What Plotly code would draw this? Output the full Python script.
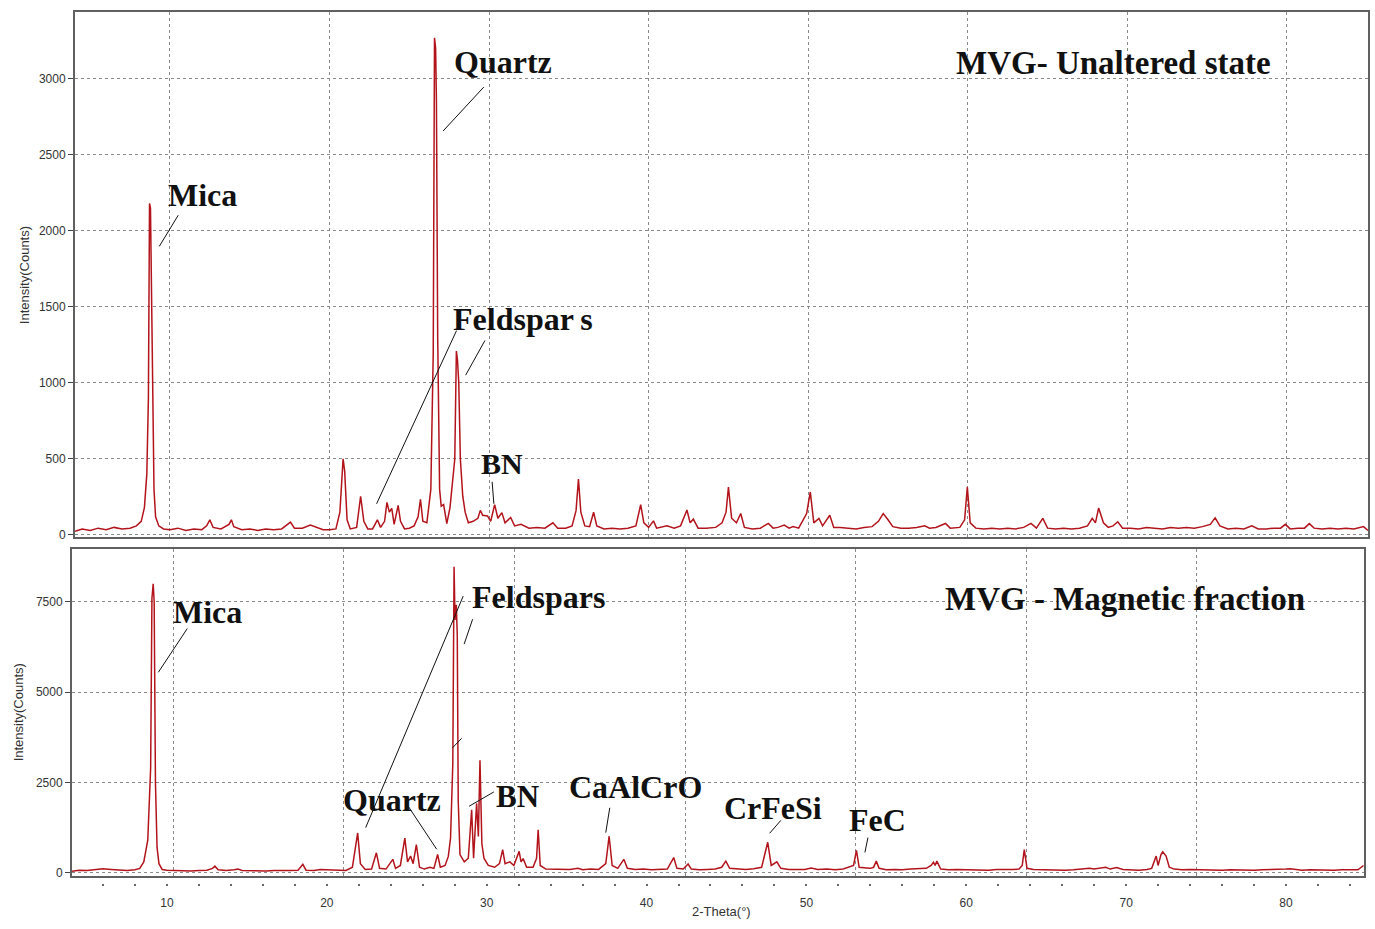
import plotly.graph_objects as go

# ---------------- data: top panel (MVG - Unaltered state) ----------------
two_theta_top = [
    4.05, 4.5, 5.0, 5.5, 6.0, 6.5, 7.0, 7.5, 7.9, 8.2, 8.4, 8.55, 8.65, 8.72, 8.78, 8.82, 8.9, 9.0, 9.1, 9.3,
    9.6, 10.0, 10.5, 11.0, 11.5, 12.0, 12.3, 12.5, 12.7, 13.2, 13.7, 13.85, 14.0, 14.5, 15.0, 15.5, 16.0, 16.5,
    17.0, 17.4, 17.55, 17.8, 18.3, 18.8, 19.2, 19.6, 20.0, 20.4, 20.65, 20.85, 20.95, 21.1, 21.3, 21.7, 21.95,
    22.15, 22.4, 22.7, 23.0, 23.2, 23.45, 23.6, 23.75, 23.9, 24.05, 24.3, 24.45, 24.7, 25.0, 25.3, 25.55, 25.7,
    25.85, 26.1, 26.35, 26.5, 26.58, 26.65, 26.7, 26.78, 26.9, 27.0, 27.15, 27.35, 27.55, 27.7, 27.85, 27.95,
    28.02, 28.1, 28.2, 28.35, 28.5, 28.7, 29.0, 29.3, 29.45, 29.6, 29.9, 30.1, 30.35, 30.55, 30.8, 31.0, 31.35,
    31.6, 32.0, 32.5, 33.0, 33.5, 34.0, 34.3, 34.8, 35.2, 35.45, 35.6, 35.75, 36.0, 36.3, 36.55, 36.75, 37.2,
    37.7, 38.2, 38.7, 39.2, 39.5, 39.7, 40.0, 40.3, 40.5, 41.15, 41.6, 42.0, 42.4, 42.6, 42.8, 43.1, 43.6, 44.2,
    44.6, 44.85, 45.0, 45.2, 45.5, 45.77, 46.0, 46.5, 47.0, 47.5, 47.8, 48.1, 48.5, 48.8, 49.05, 49.4, 49.9,
    50.13, 50.35, 50.67, 50.9, 51.35, 51.6, 52.0, 52.5, 53.0, 53.5, 54.0, 54.4, 54.7, 55.0, 55.3, 55.8, 56.3,
    56.8, 57.3, 57.6, 58.0, 58.6, 58.9, 59.5, 59.8, 59.97, 60.15, 60.5, 61.0, 61.5, 62.0, 62.5, 63.0, 63.5,
    63.96, 64.3, 64.7, 65.0, 65.5, 66.0, 66.5, 67.0, 67.5, 67.8, 68.0, 68.2, 68.5, 68.8, 69.1, 69.4, 69.7,
    70.2, 70.7, 71.2, 71.7, 72.2, 72.7, 73.2, 73.7, 74.2, 74.7, 75.2, 75.5, 75.8, 76.3, 76.8, 77.3, 77.8,
    78.2, 78.7, 79.2, 79.6, 79.9, 80.2, 80.7, 81.1, 81.4, 81.7, 82.2, 82.7, 83.2, 83.7, 84.2, 84.8, 85.08,
]
counts_top = [
    25, 40, 30, 45, 35, 50, 40, 45, 60, 90, 180, 400, 900, 2180, 2150, 1770, 900, 300, 120, 60,
    40, 35, 45, 30, 40, 35, 60, 100, 50, 40, 70, 100, 55, 35, 40, 30, 40, 35,
    40, 70, 85, 45, 45, 65, 50, 35, 35, 40, 150, 500, 420, 100, 40, 50, 255,
    90, 40, 40, 100, 50, 90, 215, 150, 175, 70, 195, 90, 40, 45, 60, 120, 235,
    90, 80, 300, 1200, 3270, 3200, 2850, 1300, 300, 190, 200, 75, 180, 320, 500, 1210,
    1150, 1000, 500, 255, 150, 80, 90, 110, 162, 130, 125, 90, 200, 110, 147, 80, 115,
    60, 70, 45, 50, 45, 80, 45, 45, 60, 160, 368, 150, 60, 55, 150, 60, 40,
    45, 40, 45, 60, 199, 80, 50, 93, 45, 60, 45, 60, 164, 80, 104, 45, 45, 50,
    80, 150, 315, 110, 80, 141, 50, 40, 45, 76, 45, 50, 65, 45, 55, 45, 141,
    283, 80, 109, 60, 130, 50, 50, 45, 40, 50, 55, 90, 141, 100, 55, 45, 45,
    50, 60, 45, 50, 76, 45, 50, 100, 315, 80, 45, 40, 45, 40, 45, 40, 50,
    76, 45, 109, 45, 40, 45, 40, 45, 60, 109, 80, 178, 80, 50, 60, 87, 45,
    45, 40, 50, 45, 40, 50, 45, 50, 45, 55, 70, 113, 60, 40, 45, 40, 60,
    40, 40, 45, 45, 70, 40, 45, 45, 75, 45, 40, 45, 40, 45, 40, 55, 30,
]

# ---------------- data: bottom panel (MVG - Magnetic fraction) ----------------
two_theta_bottom = [
    4.06, 4.5, 5.0, 5.5, 6.0, 6.5, 7.0, 7.5, 8.0, 8.3, 8.55, 8.8, 8.98, 9.06, 9.14, 9.2, 9.28, 9.38, 9.5, 9.7,
    10.0, 10.5, 11.0, 11.5, 12.0, 12.5, 12.85, 13.0, 13.2, 13.7, 14.2, 14.44, 14.7, 15.2, 15.7, 16.2, 16.7,
    17.2, 17.7, 18.2, 18.5, 18.7, 19.2, 19.6, 20.0, 20.4, 20.8, 21.2, 21.6, 21.93, 22.1, 22.4, 22.8, 23.1,
    23.3, 23.7, 24.13, 24.3, 24.6, 24.88, 25.05, 25.24, 25.4, 25.6, 25.8, 26.1, 26.45, 26.7, 26.93, 27.1,
    27.4, 27.6, 27.74, 27.88, 27.96, 28.02, 28.1, 28.16, 28.22, 28.33, 28.6, 28.85, 29.06, 29.18, 29.37,
    29.48, 29.58, 29.7, 29.83, 30.1, 30.5, 30.8, 31.0, 31.15, 31.45, 31.7, 32.03, 32.15, 32.28, 32.5, 32.9,
    33.12, 33.22, 33.35, 33.7, 34.2, 34.7, 35.2, 35.72, 36.0, 36.5, 37.0, 37.45, 37.66, 37.85, 38.2, 38.58,
    38.8, 39.3, 39.8, 40.3, 40.8, 41.3, 41.7, 41.9, 42.3, 42.6, 42.8, 43.3, 43.8, 44.3, 44.7, 44.96, 45.2,
    45.7, 46.2, 46.7, 47.2, 47.58, 47.8, 48.15, 48.4, 48.9, 49.4, 49.9, 50.3, 50.7, 51.3, 51.8, 52.3, 52.6,
    52.8, 52.95, 53.13, 53.3, 53.75, 54.0, 54.2, 54.37, 54.55, 55.0, 55.5, 56.0, 56.5, 57.0, 57.5, 57.8,
    57.95, 58.05, 58.16, 58.4, 58.9, 59.4, 59.9, 60.4, 60.9, 61.4, 61.9, 62.4, 62.9, 63.3, 63.5, 63.63,
    63.8, 64.2, 64.7, 65.2, 65.7, 66.2, 66.7, 67.2, 67.7, 68.0, 68.4, 68.72, 69.0, 69.4, 69.8, 70.3, 70.8,
    71.3, 71.6, 71.88, 72.0, 72.18, 72.29, 72.5, 72.7, 73.0, 73.5, 74.0, 74.5, 75.0, 75.5, 76.0, 76.5, 77.0,
    77.5, 78.0, 78.5, 79.0, 79.5, 80.0, 80.27, 80.6, 81.0, 81.5, 82.0, 82.5, 83.0, 83.5, 84.0, 84.5, 84.85,
]
counts_bottom = [
    40, 70, 60, 90, 110, 90, 70, 60, 80, 120, 300, 900, 2900, 7600, 8000, 7500, 2500, 700, 250, 90,
    70, 60, 70, 50, 60, 70, 120, 180, 80, 60, 80, 100, 60, 50, 60, 50, 60,
    50, 60, 70, 230, 70, 60, 90, 80, 90, 60, 60, 150, 1100, 250, 90, 100, 550,
    120, 100, 370, 120, 200, 960, 300, 460, 250, 780, 150, 100, 150, 120, 505, 150,
    200, 450, 960, 3000, 8470, 7000, 7420, 6580, 2000, 500, 300, 400, 1740, 400, 1920,
    1000, 3115, 800, 400, 200, 150, 250, 640, 250, 300, 200, 590, 300, 390, 150, 150,
    400, 1190, 200, 100, 90, 80, 90, 120, 80, 100, 90, 250, 1010, 200, 120, 370,
    120, 90, 100, 80, 90, 100, 420, 120, 100, 240, 100, 80, 90, 100, 150, 320, 120,
    100, 90, 110, 150, 843, 200, 300, 120, 90, 100, 90, 130, 90, 100, 80, 100, 150,
    184, 200, 615, 150, 130, 120, 150, 320, 120, 80, 90, 80, 100, 110, 120, 200,
    290, 200, 320, 100, 80, 90, 80, 90, 80, 70, 90, 80, 90, 100, 200, 640,
    120, 90, 80, 90, 80, 70, 80, 90, 120, 100, 130, 150, 100, 140, 90, 80, 70,
    90, 120, 460, 200, 500, 580, 460, 150, 100, 80, 90, 80, 70, 80, 70, 80, 70,
    80, 70, 80, 80, 90, 100, 110, 90, 70, 80, 70, 80, 70, 80, 70, 80, 200,
]

x_ticks = [10, 20, 30, 40, 50, 60, 70, 80]
y_ticks_top = [0, 500, 1000, 1500, 2000, 2500, 3000]
y_ticks_bottom = [0, 2500, 5000, 7500]

# phase labels: (text, 2theta, counts, font size)
labels_top = [
    ("Mica", 12.07, 2233, 32),
    ("Quartz", 30.86, 3110, 32),
    ("Feldspar\u2009s", 32.12, 1418, 32),
    ("BN", 30.83, 467, 30),
    ("MVG- Unaltered state", 69.15, 3104, 33),
]
leaders_top = [
    (10.52, 2103, 9.33, 1898),
    (29.67, 2946, 27.12, 2657),
    (22.95, 205, 27.96, 1344),
    (29.74, 1279, 28.53, 1051),
    (30.19, 350, 30.30, 205),
]
labels_bottom = [
    ("Mica", 12.53, 7216, 32),
    ("Quartz", 24.10, 2024, 32),
    ("Feldspars", 33.26, 7629, 32),
    ("BN", 31.92, 2115, 31),
    ("CaAlCrO", 39.32, 2368, 32),
    ("CrFeSi", 47.92, 1797, 32),
    ("FeC", 54.45, 1453, 32),
    ("MVG - Magnetic fraction", 69.94, 7587, 33),
]
leaders_bottom = [
    (11.27, 6758, 9.46, 5549),
    (22.43, 1247, 28.53, 7656),
    (25.09, 1840, 26.87, 651),
    (29.12, 7016, 28.59, 6329),
    (27.87, 3461, 28.43, 3719),
    (30.45, 2236, 28.90, 1840),
    (37.70, 1797, 37.45, 1110),
    (48.40, 1448, 47.70, 1091),
    (53.85, 972, 53.66, 560),
]

# ---------------- figure ----------------
W, H = 1375, 929
LINE_COLOR = "#b3141c"
GRID = "#8a8a8a"
TICKFONT = dict(family="Liberation Sans, Arial, sans-serif", size=12, color="#333333")
LABELFONT = "Liberation Serif, Times New Roman, serif"

fig = go.Figure()
fig.add_trace(go.Scatter(x=two_theta_top, y=counts_top, mode="lines", xaxis="x", yaxis="y",
                         line=dict(color=LINE_COLOR, width=1.5), showlegend=False, hoverinfo="skip"))
fig.add_trace(go.Scatter(x=two_theta_bottom, y=counts_bottom, mode="lines", xaxis="x2", yaxis="y2",
                         line=dict(color=LINE_COLOR, width=1.5), showlegend=False, hoverinfo="skip"))
# helper traces so that the overlay axes (bottom grid + dot ticks) get drawn
fig.add_trace(go.Scatter(x=[None], y=[None], xaxis="x3", yaxis="y2", showlegend=False, hoverinfo="skip"))
fig.add_trace(go.Scatter(x=[None], y=[None], xaxis="x4", yaxis="y2", showlegend=False, hoverinfo="skip"))

dom_top_x = [75 / W, 1368 / W]
dom_top_y = [1 - 540 / H, 1 - 12 / H]
dom_bot_x = [72 / W, 1364 / W]
dom_bot_y = [1 - 882 / H, 1 - 553 / H]

frame = dict(showline=True, linecolor="#606060", linewidth=2, mirror=True)
grid = dict(showgrid=True, gridcolor=GRID, gridwidth=1, griddash="3px,3px", zeroline=False)

fig.update_layout(
    width=W, height=H, margin=dict(l=0, r=0, t=0, b=0),
    paper_bgcolor="white", plot_bgcolor="white", showlegend=False,
    xaxis=dict(domain=dom_top_x, anchor="y", range=[4.05, 85.08], tickvals=x_ticks,
               showticklabels=False, ticks="", **grid, **frame),
    yaxis=dict(domain=dom_top_y, anchor="x", range=[-10, 3440], tickvals=y_ticks_top,
               ticks="outside", ticklen=5, tickcolor="#444", tickfont=TICKFONT, **grid, **frame),
    xaxis2=dict(domain=dom_bot_x, anchor="y2", range=[4.06, 84.88], tickvals=x_ticks,
                showgrid=False, zeroline=False, ticks="", tickfont=TICKFONT,
                ticklabelstandoff=14, **frame),
    yaxis2=dict(domain=dom_bot_y, anchor="x2", range=[-100, 8950], tickvals=y_ticks_bottom,
                ticks="outside", ticklen=5, tickcolor="#444", tickfont=TICKFONT, **grid, **frame),
    xaxis3=dict(domain=dom_bot_x, overlaying="x2", anchor="y2", range=[4.05, 79.82], dtick=10, tick0=0,
                showticklabels=False, ticks="", showline=False, **grid),
    xaxis4=dict(domain=dom_bot_x, overlaying="x2", anchor="free", position=1 - 889 / H,
                range=[4.06, 84.88], dtick=2, tick0=0, showticklabels=False, showgrid=False,
                zeroline=False, showline=False, ticks="outside", ticklen=2, tickwidth=2, tickcolor="#666"),
)

annotations = []
for text, x, y, size in labels_top:
    annotations.append(dict(text="<b>" + text + "</b>", x=x, y=y, xref="x", yref="y", showarrow=False,
                            xanchor="center", yanchor="middle",
                            font=dict(family=LABELFONT, size=size, color="#111111")))
for text, x, y, size in labels_bottom:
    annotations.append(dict(text="<b>" + text + "</b>", x=x, y=y, xref="x2", yref="y2", showarrow=False,
                            xanchor="center", yanchor="middle",
                            font=dict(family=LABELFONT, size=size, color="#111111")))
annotations.append(dict(text="Intensity(Counts)", x=24 / W, y=1 - 277 / H, xref="paper", yref="paper",
                        showarrow=False, textangle=-90, xanchor="center", yanchor="middle",
                        font=dict(family="Liberation Sans, Arial, sans-serif", size=13, color="#333333")))
annotations.append(dict(text="Intensity(Counts)", x=18 / W, y=1 - 717 / H, xref="paper", yref="paper",
                        showarrow=False, textangle=-90, xanchor="center", yanchor="middle",
                        font=dict(family="Liberation Sans, Arial, sans-serif", size=13, color="#333333")))
annotations.append(dict(text="2-Theta(°)", x=721 / W, y=1 - 917 / H, xref="paper", yref="paper",
                        showarrow=False, xanchor="center", yanchor="middle",
                        font=dict(family="Liberation Sans, Arial, sans-serif", size=13, color="#333333")))
fig.update_layout(annotations=annotations)

shapes = []
for x0, y0, x1, y1 in leaders_top:
    shapes.append(dict(type="line", xref="x", yref="y", x0=x0, y0=y0, x1=x1, y1=y1,
                       line=dict(color="#111111", width=1)))
for x0, y0, x1, y1 in leaders_bottom:
    shapes.append(dict(type="line", xref="x2", yref="y2", x0=x0, y0=y0, x1=x1, y1=y1,
                       line=dict(color="#111111", width=1)))
fig.update_layout(shapes=shapes)

fig.write_html("out.html")
